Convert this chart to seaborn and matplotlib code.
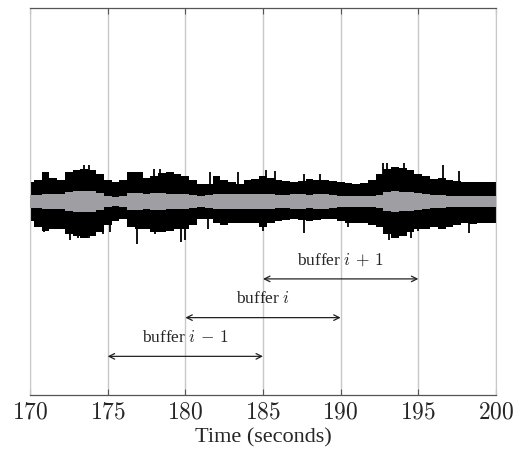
import numpy as np
import pandas as pd
import matplotlib
matplotlib.use("Agg")
import matplotlib.pyplot as plt
import seaborn as sns

# envelope of the recording, read every 0.5 s from 170 to 200 s
time = np.arange(170, 200.01, 0.5)
upper = [0.10, 0.11, 0.15, 0.12, 0.11, 0.15, 0.16, 0.17, 0.16, 0.14,
         0.11, 0.10, 0.11, 0.15, 0.15, 0.12, 0.13, 0.145, 0.15, 0.14,
         0.13, 0.11, 0.09, 0.09, 0.13, 0.11, 0.10, 0.09, 0.11, 0.115,
         0.13, 0.12, 0.11, 0.105, 0.10, 0.105, 0.115, 0.11, 0.11, 0.105,
         0.10, 0.095, 0.09, 0.095, 0.11, 0.14, 0.17, 0.18, 0.175, 0.16,
         0.14, 0.13, 0.115, 0.12, 0.11, 0.105, 0.10, 0.10, 0.10, 0.10, 0.10]
lower = [0.10, 0.13, 0.15, 0.14, 0.14, 0.17, 0.18, 0.19, 0.18, 0.16,
         0.12, 0.10, 0.09, 0.13, 0.14, 0.14, 0.16, 0.16, 0.15, 0.14,
         0.14, 0.12, 0.09, 0.09, 0.11, 0.12, 0.11, 0.11, 0.11, 0.11,
         0.13, 0.11, 0.10, 0.095, 0.09, 0.095, 0.10, 0.095, 0.09, 0.09,
         0.10, 0.11, 0.11, 0.11, 0.12, 0.13, 0.17, 0.19, 0.18, 0.16,
         0.14, 0.14, 0.13, 0.14, 0.13, 0.12, 0.11, 0.115, 0.11, 0.11, 0.11]
inner = [0.035, 0.035, 0.04, 0.04, 0.04, 0.05, 0.052, 0.052, 0.052, 0.045,
         0.03, 0.025, 0.03, 0.045, 0.045, 0.04, 0.045, 0.045, 0.04, 0.04,
         0.04, 0.035, 0.03, 0.035, 0.04, 0.04, 0.04, 0.04, 0.04, 0.04,
         0.04, 0.04, 0.035, 0.035, 0.04, 0.04, 0.035, 0.04, 0.04, 0.035,
         0.03, 0.03, 0.03, 0.03, 0.03, 0.035, 0.05, 0.052, 0.05, 0.05,
         0.045, 0.04, 0.035, 0.035, 0.03, 0.03, 0.03, 0.03, 0.03, 0.03, 0.03]

# isolated peaks that stick out of the envelope (time, amplitude)
spike_t = [173.5, 173.8, 178.0, 178.4, 181.57, 183.4, 185.2, 185.8, 187.66,
           188.7, 192.7, 193.0, 194.1, 196.57, 197.6,
           170.9, 172.6, 173.1, 173.8, 174.7, 175.15, 176.9, 178.05, 179.7,
           179.96, 181.46, 184.98, 187.66, 190.5, 193.1, 194.5, 194.96, 198.28]
spike_a = [0.19, 0.19, 0.17, 0.17, 0.15, 0.15, 0.16, 0.155, 0.14,
           0.14, 0.20, 0.20, 0.20, 0.19, 0.155,
           -0.16, -0.20, -0.19, -0.19, -0.17, -0.16, -0.22, -0.17, -0.21,
           -0.20, -0.14, -0.15, -0.165, -0.13, -0.20, -0.19, -0.15, -0.165]

# buffers (start, end, label)
buf_start = [175, 180, 185]
buf_end = [185, 190, 195]
buf_y = [-0.8, -0.6, -0.4]
buf_label = [r"buffer $i\,-\,1$", r"buffer $i$", r"buffer $i\,+\,1$"]

sns.set_style("ticks")
plt.rcParams['font.family'] = ['Liberation Serif', 'DejaVu Serif']
plt.rcParams['mathtext.fontset'] = 'cm'

df = pd.DataFrame({'time': time, 'upper': upper, 'lower': lower, 'inner': inner})

fig = plt.figure(figsize=(5.22, 4.61), dpi=100)
ax = fig.add_axes([0.0575, 0.143, 0.8927, 0.840])

ax.fill_between(df['time'], -df['lower'], df['upper'], step='mid',
                color='black', lw=0, zorder=2)
ax.vlines(spike_t, 0, spike_a, color='black', lw=1.3, zorder=2)
ax.fill_between(df['time'], -df['inner'], df['inner'], step='mid',
                color='#9e9ea3', lw=0, zorder=3)

for s, e, y, lab in zip(buf_start, buf_end, buf_y, buf_label):
    ax.annotate('', xy=(s, y), xytext=(e, y),
                arrowprops=dict(arrowstyle='<->', color='#222222', lw=0.9,
                                shrinkA=0, shrinkB=0, mutation_scale=10))
    ax.text((s + e) / 2, y + 0.055, lab, ha='center', va='bottom', fontsize=12.5)

ax.set_xlim(170, 200)
ax.set_ylim(-1, 1)
ticks = [170, 175, 180, 185, 190, 195, 200]
ax.set_xticks(ticks)
ax.set_xticklabels([f'${t}$' for t in ticks], fontsize=17)
ax.set_yticks([])
ax.grid(axis='x', color='#c8c8c8', lw=1)
ax.set_axisbelow(True)
ax.tick_params(axis='x', direction='in', length=4, width=0.8, color='#555555',
               top=True, pad=5)
for side in ['left', 'right']:
    ax.spines[side].set_color('#c8c8c8')
for side in ['top', 'bottom']:
    ax.spines[side].set_color('#555555')
    ax.spines[side].set_linewidth(0.9)
ax.set_xlabel('Time (seconds)', fontsize=16, labelpad=4)

fig.savefig('out.png', dpi=100)
